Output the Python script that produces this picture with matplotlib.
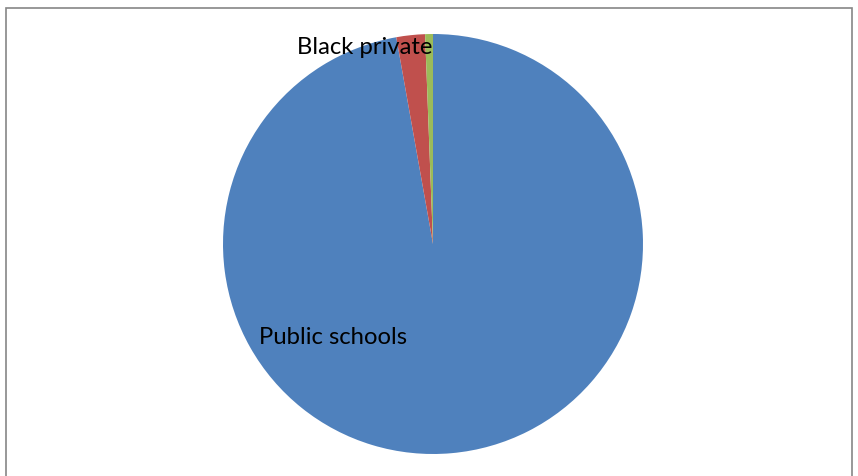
import matplotlib
matplotlib.use("Agg")
import matplotlib.pyplot as plt
from matplotlib.patches import Rectangle

# School enrolment shares
categories = ["Public schools", "Black private", ""]
shares = [97.2, 2.2, 0.6]
colors = ["#4F81BD", "#C0504D", "#9BBB59"]

W, H = 858, 476
fig = plt.figure(figsize=(W / 100, H / 100), dpi=100)

# chart frame
fig.patches.append(Rectangle((5.5 / W, -0.1), 846 / W, 1.1 - 7.5 / H,
                             transform=fig.transFigure, fill=False,
                             edgecolor="#868686", linewidth=1.2))

cx, cy, r = 433, 244, 210
ax = fig.add_axes([(cx - r) / W, (H - cy - r) / H, 2 * r / W, 2 * r / H])
ax.pie(shares, colors=colors, startangle=90, counterclock=False,
       wedgeprops=dict(linewidth=0))
ax.set_xlim(-1, 1)
ax.set_ylim(-1, 1)
ax.axis("off")

font = dict(family=["Lato", "DejaVu Sans"], fontsize=17.2, color="black",
            ha="center", va="center")
ax.text(-100 / r, -93 / r, categories[0], **font)
ax.text(-68 / r, 197 / r, categories[1], **font)

fig.savefig("out.png", dpi=100)
